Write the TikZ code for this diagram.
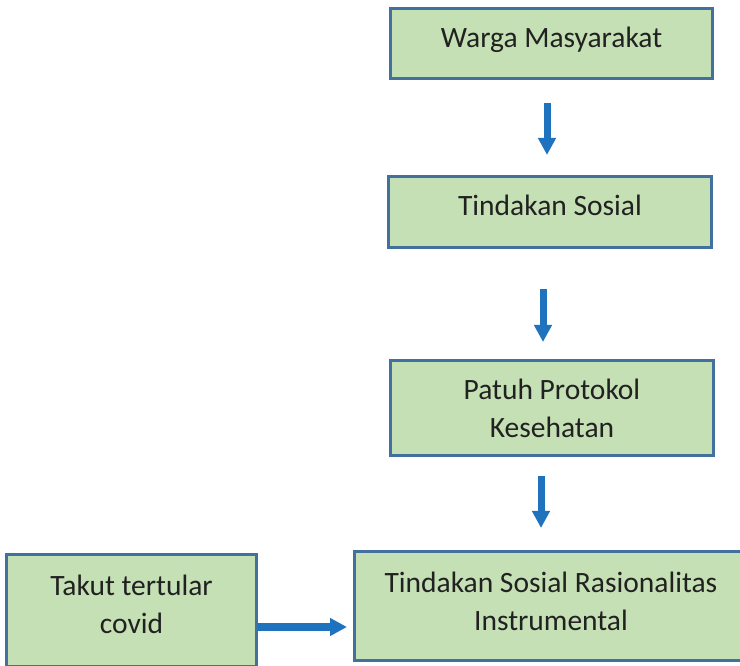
\documentclass[tikz,border=0pt]{standalone}
\usepackage{fontspec}
\setmainfont{Carlito}
\usetikzlibrary{arrows.meta}
\definecolor{boxfill}{HTML}{C5E0B4}
\definecolor{boxline}{HTML}{41719C}
\definecolor{arrblue}{HTML}{1F72BE}
\tikzset{
  box/.style={draw=boxline, fill=boxfill, line width=3pt, inner sep=0pt},
  lbl/.style={inner sep=0pt, align=center, text=black!87, font=\fontsize{29.5}{38}\selectfont},
  arr/.style={draw=arrblue, line width=7pt, -{Triangle[width=17pt,length=17pt]}}
}
\begin{document}
\begin{tikzpicture}[x=1pt,y=1pt]
\useasboundingbox (0,0) rectangle (740,665);
\clip (0,0) rectangle (740,665);
\node[box, minimum width=322pt, minimum height=70pt] (b1) at (551.5,621.5) {};
\node[box, minimum width=323pt, minimum height=71pt] (b2) at (550,453) {};
\node[box, minimum width=323pt, minimum height=95pt] (b3) at (552,257) {};
\node[box, minimum width=393pt, minimum height=109pt] (b4) at (551,59) {};
\node[box, minimum width=250pt, minimum height=112pt] (b5) at (131.5,54.5) {};
\node[lbl] (t1) at ([yshift=3.1pt]b1.center) {Warga Masyarakat\strut};
\node[lbl] (t2) at ([yshift=3.6pt]b2.center) {Tindakan Sosial\strut};
\node[lbl] (t3) at ([yshift=-2.9pt]b3.center) {Patuh Protokol\strut\\Kesehatan\strut};
\node[lbl] (t4) at ([yshift=2.1pt]b4.center) {Tindakan Sosial Rasionalitas\strut\\Instrumental\strut};
\node[lbl] (t5) at ([yshift=3.6pt]b5.center) {Takut tertular\strut\\covid\strut};
\coordinate (x1) at (547,0);
\coordinate (x2) at (543,0);
\coordinate (x3) at (541,0);
\coordinate (hy) at (0,38);
\draw[arr, shorten <=23pt, shorten >=20pt] (b1.south -| x1) -- (b2.north -| x1);
\draw[arr, shorten <=40pt, shorten >=17pt] (b2.south -| x2) -- (b3.north -| x2);
\draw[arr, shorten <=19pt, shorten >=22pt] (b3.south -| x3) -- (b4.north -| x3);
\draw[arr, shorten >=6pt] (b5.east |- hy) -- (b4.west |- hy);
\end{tikzpicture}
\end{document}
